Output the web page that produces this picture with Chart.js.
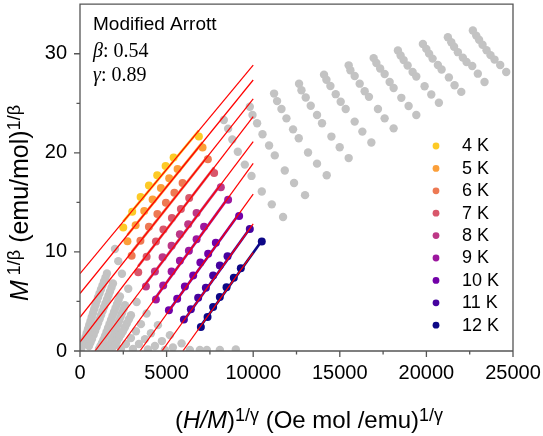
<!DOCTYPE html>
<html lang="en">
<head>
<meta charset="UTF-8">
<title>Modified Arrott plot</title>
<script src="https://cdn.jsdelivr.net/npm/chart.js"></script>
<style>
  html, body { margin: 0; padding: 0; background: #fff; }
  #wrap { width: 543px; height: 436px; }
</style>
</head>
<body>
<div id="wrap"><canvas id="arrottChart" width="543" height="436"></canvas></div>
<script>
  // isotherms used for the fits
  const temps = ['4 K', '5 K', '6 K', '7 K', '8 K', '9 K', '10 K', '11 K', '12 K'];
  const colors = ['#fdca26', '#fb9f3a', '#ed7953', '#d8576b', '#bd3786', '#9c179e', '#7201a8', '#46039f', '#0d0887'];

  // (H/M)^(1/γ) of the fitted points, one row per temperature
  const fitX = [
    [2497, 3016, 3500, 3979, 4458, 4942, 5404, 6863],
    [2739, 3212, 3708, 4193, 4671, 5150, 5634, 7076],
    [2982, 3489, 3979, 4469, 4960, 5450, 5923, 7382],
    [3362, 3847, 4383, 4815, 5306, 5825, 6303, 7745],
    [3806, 4325, 4769, 5288, 5767, 6246, 6730, 8131],
    [4383, 4804, 5288, 5767, 6286, 6730, 7163, 8552],
    [5133, 5611, 6055, 6534, 6949, 7399, 7843, 9187],
    [5998, 6401, 6822, 7266, 7687, 8074, 8518, 9804],
    [6978, 7364, 7687, 8074, 8460, 8881, 9285, 10496]
  ];
  // M^(1/β) of the fitted points
  const fitY = [
    [12.46, 14.06, 15.53, 16.70, 17.74, 18.67, 19.54, 21.64],
    [11.07, 12.68, 14.13, 15.30, 16.46, 17.43, 18.37, 20.54],
    [9.62, 11.12, 12.53, 13.83, 14.96, 15.98, 16.96, 19.34],
    [7.95, 9.52, 11.05, 12.25, 13.43, 14.33, 15.43, 17.97],
    [6.51, 8.02, 9.45, 10.62, 11.79, 12.80, 13.93, 16.53],
    [5.21, 6.61, 8.02, 9.12, 10.12, 11.27, 12.53, 15.26],
    [4.11, 5.28, 6.51, 7.62, 8.92, 9.82, 10.92, 13.63],
    [3.18, 4.21, 5.38, 6.38, 7.62, 8.62, 9.57, 12.32],
    [2.43, 3.44, 4.44, 5.44, 6.44, 7.38, 8.35, 11.05]
  ];

  // linear fits y = a + b*x, extrapolated up to fitEnd
  const fitIntercept = [7.8, 5.8, 3.4, 0.9, -2.0, -5.14, -8.37, -11.51, -14.51];
  const fitSlope = [0.002106, 0.002155, 0.002205, 0.002275, 0.002314, 0.002408, 0.00242, 0.002434, 0.002443];
  const fitEnd = 10000;

  // high-field points not used in the fit, one column per field (4 K -> 12 K)
  const highX = [
    [8304, 8552, 8795, 9112, 9516, 9902, 10496, 11073, 11724],
    [9804, 9960, 10225, 10537, 10917, 11246, 11823, 12359, 12993],
    [11205, 11378, 11632, 11920, 12301, 12630, 13166, 13685, 14244],
    [12647, 12786, 13033, 13322, 13685, 13973, 14515, 14994, 15513],
    [14089, 14227, 14458, 14764, 15052, 15340, 15859, 16303, 16822],
    [15513, 15611, 15859, 16148, 16436, 16684, 17203, 17589, 18108],
    [16955, 17111, 17330, 17589, 17878, 18108, 18552, 18973, 19417],
    [18356, 18512, 18685, 18916, 19204, 19417, 19896, 20282, 20721],
    [19798, 19994, 20156, 20357, 20663, 20877, 21298, 21626, 22013],
    [21240, 21436, 21598, 21817, 22105, 22318, 22647, 22970, 23356],
    [22682, 22878, 23040, 23241, 23472, 23702, 23933, 24262, 24608]
  ];
  const highY = [
    [23.32, 22.44, 21.34, 20.11, 18.81, 17.67, 16.10, 14.80, 13.53],
    [24.65, 23.82, 22.98, 21.87, 20.74, 19.74, 18.21, 16.96, 15.73],
    [25.98, 25.22, 24.42, 23.48, 22.37, 21.47, 20.04, 18.91, 17.74],
    [26.98, 26.32, 25.58, 24.75, 23.82, 22.98, 21.64, 20.57, 19.47],
    [27.89, 27.38, 26.75, 25.92, 25.15, 24.42, 23.15, 22.14, 21.04],
    [28.83, 28.33, 27.76, 26.98, 26.22, 25.65, 24.42, 23.48, 22.47],
    [29.56, 29.06, 28.51, 27.96, 27.15, 26.55, 25.55, 24.72, 23.82],
    [30.33, 29.83, 29.36, 28.81, 28.16, 27.71, 26.72, 25.88, 25.05],
    [30.99, 30.49, 30.01, 29.51, 28.86, 28.41, 27.61, 26.82, 26.15],
    [31.66, 31.16, 30.71, 30.16, 29.61, 29.16, 28.76, 27.99, 27.15],
    [32.34, 31.83, 31.41, 30.91, 30.36, 29.86, 29.41, 28.86, 28.16]
  ];

  // low-field points, one row per temperature (4 K -> 12 K); they fall
  // steeply towards the origin and overlap into thick bands
  const lowX = [
    [2018, 1557, 1471, 1384, 1298, 1211, 1125, 1038, 963, 894, 819, 750, 675, 606, 531, 461, 386, 317, 242, 173, 115, 58],
    [2209, 1903, 1817, 1730, 1644, 1557, 1471, 1384, 1298, 1211, 1125, 1038, 952, 865, 779, 692, 606, 519],
    [2422, 2307, 2220, 2134, 2047, 1961, 1874, 1788, 1701, 1615, 1528, 1442, 1355, 1269, 1182, 1096],
    [2785, 2595, 2509, 2422, 2336, 2249, 2163, 2076, 1990, 1903, 1817, 1730, 1644, 1557],
    [3270, 2941, 2826, 2710, 2595, 2480, 2364, 2249, 2134, 2018, 1845],
    [3847, 3518, 3230, 2941, 2653, 2364],
    [4498, 4095, 3749, 3403, 3057],
    [5190, 4729, 4325, 3922],
    [5865, 5363, 4902]
  ];
  const lowY = [
    [10.29, 7.82, 7.41, 7.01, 6.61, 6.21, 5.81, 5.41, 5.01, 4.61, 4.21, 3.81, 3.41, 3.01, 2.61, 2.20, 1.80, 1.40, 1.05, 0.70, 0.45, 0.20],
    [9.07, 6.81, 6.41, 6.01, 5.61, 5.21, 4.81, 4.41, 4.01, 3.61, 3.21, 2.81, 2.40, 2.00, 1.60, 1.20, 0.85, 0.50],
    [7.79, 5.51, 5.11, 4.71, 4.31, 3.91, 3.51, 3.11, 2.71, 2.30, 1.90, 1.50, 1.15, 0.80, 0.50, 0.20],
    [6.28, 4.61, 4.21, 3.81, 3.41, 3.01, 2.61, 2.20, 1.80, 1.40, 1.05, 0.70, 0.45, 0.20],
    [4.94, 3.61, 3.21, 2.81, 2.40, 2.00, 1.65, 1.30, 0.95, 0.60, 0.20],
    [3.78, 2.71, 2.00, 1.30, 0.70, 0.20],
    [2.61, 1.80, 1.20, 0.70, 0.20],
    [1.60, 1.00, 0.50, 0.15],
    [0.77, 0.35, 0.10]
  ];

  // isotherms above the transition, lying on the x axis
  const baseX = [6344, 6920, 7324, 8074, 8997];
  const baseY = [0.10, 0.10, 0.10, 0.10, 0.15];

  const xTicks = { min: 0, max: 25000, step: 2500, labelEvery: 5000 };
  const yTicks = { min: 0, max: 35, step: 5, labelEvery: 10 };

  const sans = '"Liberation Sans", Arial, sans-serif';
  const serif = '"Liberation Serif", "Times New Roman", serif';
  const axisColor = '#555555';
  const gray = '#c3c3c3';

  function toPoints(xs, ys) {
    return xs.map((x, i) => ({ x: x, y: ys[i] }));
  }

  const datasets = [];

  // red extrapolated fits, drawn on top
  temps.forEach((t, i) => {
    const a = fitIntercept[i], b = fitSlope[i];
    const x0 = Math.max(0, -a / b);
    datasets.push({
      label: t + ' fit',
      data: [{ x: x0, y: a + b * x0 }, { x: fitEnd, y: a + b * fitEnd }],
      showLine: true, borderColor: '#ff0000', borderWidth: 1.2,
      pointRadius: 0, order: 0
    });
  });

  // fit over the data range, in the isotherm colour
  temps.forEach((t, i) => {
    const a = fitIntercept[i], b = fitSlope[i];
    const xs = fitX[i];
    const lo = Math.min(...xs), hi = Math.max(...xs);
    datasets.push({
      label: t + ' range',
      data: [{ x: lo, y: a + b * lo }, { x: hi, y: a + b * hi }],
      showLine: true, borderColor: colors[i], borderWidth: 2.6,
      pointRadius: 0, order: 1
    });
  });

  temps.forEach((t, i) => {
    datasets.push({
      label: t,
      data: toPoints(fitX[i], fitY[i]),
      backgroundColor: colors[i], borderWidth: 0,
      pointRadius: 4, order: 2
    });
  });

  const grayPts = [];
  highX.forEach((xs, i) => grayPts.push(...toPoints(xs, highY[i])));
  lowX.forEach((xs, i) => grayPts.push(...toPoints(xs, lowY[i])));
  grayPts.push(...toPoints(baseX, baseY));
  datasets.push({
    label: 'other',
    data: grayPts,
    backgroundColor: gray, borderWidth: 0,
    pointRadius: 4.2, order: 3
  });

  // draw mixed italic / superscript text; runs = [{text, font, rise}]
  function drawRuns(g, runs, x, y, center) {
    let w = 0;
    runs.forEach(r => { g.font = r.font; r.w = g.measureText(r.text).width; w += r.w; });
    let cx = center ? x - w / 2 : x;
    runs.forEach(r => {
      g.font = r.font;
      g.fillText(r.text, cx, y - (r.rise || 0));
      cx += r.w;
    });
  }

  const decorations = {
    id: 'decorations',
    afterDraw(chart) {
      const g = chart.ctx;
      const area = chart.chartArea;
      const sx = chart.scales.x, sy = chart.scales.y;
      g.save();

      // frame and outward ticks, minor ones shorter
      g.strokeStyle = axisColor;
      g.lineWidth = 1.3;
      g.beginPath();
      g.rect(area.left, area.top, area.right - area.left, area.bottom - area.top);
      for (let v = xTicks.min; v <= xTicks.max; v += xTicks.step) {
        const px = sx.getPixelForValue(v);
        const len = v % xTicks.labelEvery === 0 ? 6 : 3.5;
        g.moveTo(px, area.bottom);
        g.lineTo(px, area.bottom + len);
      }
      for (let v = yTicks.min; v < yTicks.max; v += yTicks.step) {
        const py = sy.getPixelForValue(v);
        const len = v % yTicks.labelEvery === 0 ? 6 : 3.5;
        g.moveTo(area.left, py);
        g.lineTo(area.left - len, py);
      }
      g.stroke();

      g.fillStyle = '#000000';
      g.textAlign = 'left';
      g.textBaseline = 'alphabetic';

      // annotations
      g.font = '19px ' + sans;
      g.fillText('Modified Arrott', 93, 30);
      drawRuns(g, [
        { text: 'β', font: 'italic 20px ' + serif },
        { text: ': 0.54', font: '20px ' + serif }
      ], 93, 57, false);
      drawRuns(g, [
        { text: 'γ', font: 'italic 20px ' + serif },
        { text: ': 0.89', font: '20px ' + serif }
      ], 93, 81, false);

      // x title
      drawRuns(g, [
        { text: '(', font: '24px ' + sans },
        { text: 'H/M', font: 'italic 24px ' + sans },
        { text: ')', font: '24px ' + sans },
        { text: '1/γ', font: '18px ' + sans, rise: 7 },
        { text: ' (Oe mol /emu)', font: '24px ' + sans },
        { text: '1/γ', font: '18px ' + sans, rise: 7 }
      ], 309, 428, true);

      // y title
      g.save();
      g.translate(28, 203);
      g.rotate(-Math.PI / 2);
      drawRuns(g, [
        { text: 'M', font: 'italic 25px ' + sans },
        { text: ' 1/β', font: '18px ' + sans, rise: 8 },
        { text: ' (emu/mol)', font: '25px ' + sans },
        { text: '1/β', font: '18px ' + sans, rise: 8 }
      ], 0, 0, true);
      g.restore();

      // legend
      g.font = '18px ' + sans;
      g.textBaseline = 'middle';
      temps.forEach((t, i) => {
        const y = 146 + i * 22.4;
        g.fillStyle = colors[i];
        g.beginPath();
        g.arc(436, y, 3.4, 0, Math.PI * 2);
        g.fill();
        g.fillStyle = '#000000';
        g.fillText(t, 462, y + 0.5);
      });
      g.restore();
    }
  };

  new Chart(document.getElementById('arrottChart'), {
    type: 'scatter',
    data: { datasets: datasets },
    options: {
      responsive: false,
      animation: false,
      events: [],
      layout: { padding: { left: 0, top: 2, right: 30, bottom: 0 } },
      scales: {
        x: {
          type: 'linear',
          min: xTicks.min, max: xTicks.max,
          grid: { display: false, drawTicks: false },
          border: { display: false },
          ticks: {
            stepSize: xTicks.step,
            padding: 10,
            color: '#000',
            font: { family: sans, size: 20 },
            maxRotation: 0,
            autoSkip: false,
            callback: v => (v % xTicks.labelEvery === 0 ? String(v) : null)
          },
          afterFit: s => { s.height = 85; s.paddingLeft = 0; s.paddingRight = 0; }
        },
        y: {
          type: 'linear',
          min: yTicks.min, max: yTicks.max,
          grid: { display: false, drawTicks: false },
          border: { display: false },
          ticks: {
            stepSize: yTicks.step,
            padding: 13,
            color: '#000',
            font: { family: sans, size: 20 },
            callback: v => (v % yTicks.labelEvery === 0 ? String(v) : null)
          },
          afterFit: s => { s.width = 80; s.paddingTop = 0; s.paddingBottom = 0; }
        }
      },
      plugins: {
        legend: { display: false },
        tooltip: { enabled: false }
      }
    },
    plugins: [decorations]
  });
</script>
</body>
</html>
